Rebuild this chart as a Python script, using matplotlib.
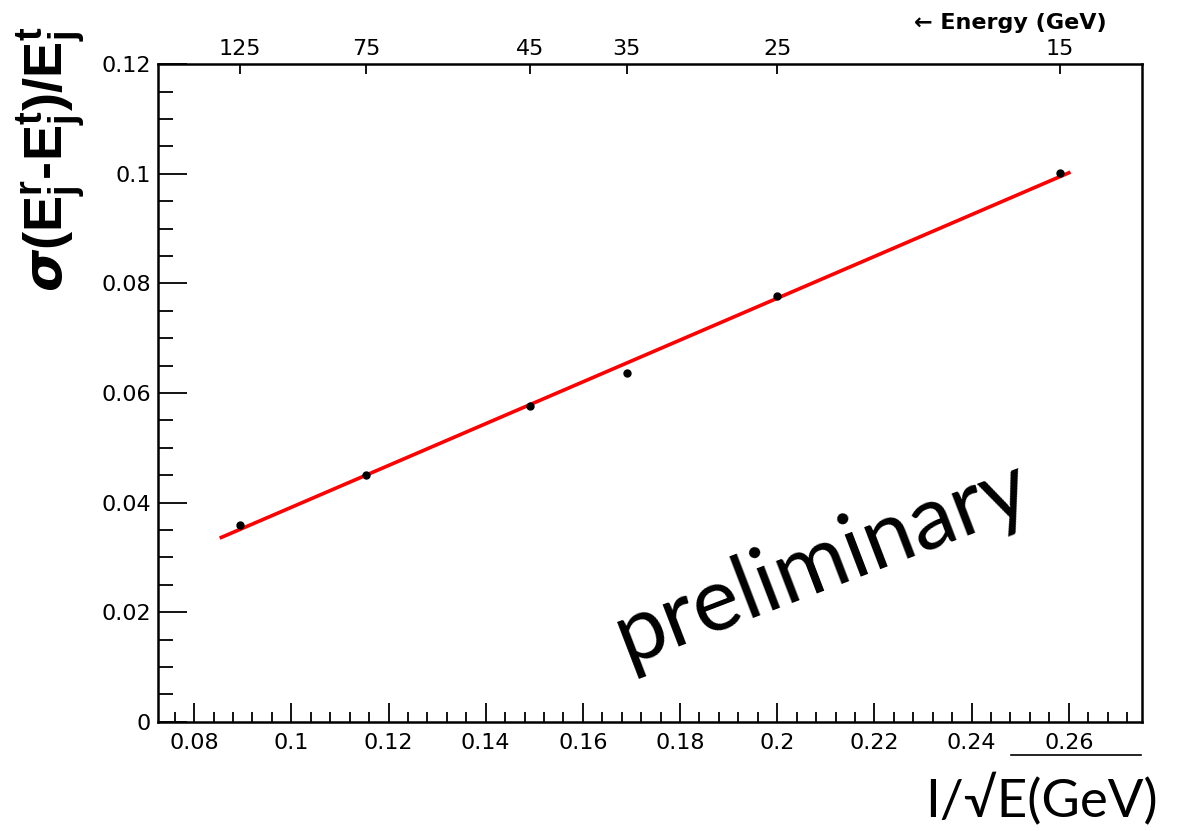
import numpy as np
import matplotlib
matplotlib.use('Agg')
import matplotlib.pyplot as plt
from matplotlib.ticker import MultipleLocator, FixedLocator, FuncFormatter
from matplotlib.lines import Line2D

# beam energies (GeV) and measured jet energy resolution
energies = [125, 75, 45, 35, 25, 15]
resolution = [0.0359, 0.0450, 0.0577, 0.0636, 0.0777, 0.1002]

# linear fit sigma = p0 + p1 / sqrt(E)
fit_p0 = 0.00098
fit_p1 = 0.3816
fit_range = [0.0856, 0.26]

top_labels = ['125', '75', '45', '35', '25', '15']
x_range = [0.0725, 0.275]
y_range = [0, 0.12]

plt.rcParams['font.family'] = ['DejaVu Sans']
plt.rcParams['mathtext.fontset'] = 'custom'
plt.rcParams['mathtext.rm'] = 'Liberation Sans:bold'
plt.rcParams['mathtext.bf'] = 'DejaVu Sans:bold:italic'

inv_sqrt_e = 1.0 / np.sqrt(np.array(energies, dtype=float))

fig = plt.figure(figsize=(11.91, 8.31), dpi=100)
ax = fig.add_axes([0.1324, 0.1315, 0.9586 - 0.1324, 0.9226 - 0.1315])

fx = np.array(fit_range)
ax.plot(fx, fit_p0 + fit_p1 * fx, color='#ff0000', lw=2.6, zorder=2)
ax.plot(inv_sqrt_e, resolution, 'o', color='black', ms=5, zorder=3)

ax.set_xlim(x_range)
ax.set_ylim(y_range)

# ROOT style axes
for s in ax.spines.values():
    s.set_linewidth(1.8)
ax.xaxis.set_major_locator(MultipleLocator(0.02))
ax.xaxis.set_minor_locator(MultipleLocator(0.004))
ax.yaxis.set_major_locator(MultipleLocator(0.02))
ax.yaxis.set_minor_locator(MultipleLocator(0.005))
ax.tick_params(axis='x', which='major', direction='in', length=14, width=1.3,
               labelsize=16, pad=8, top=False)
ax.tick_params(axis='x', which='minor', direction='in', length=7, width=1.3, top=False)
ax.tick_params(axis='y', which='major', direction='in', length=21, width=1.3,
               labelsize=16, pad=5, right=False)
ax.tick_params(axis='y', which='minor', direction='in', length=11, width=1.3, right=False)
ax.xaxis.set_major_formatter(FuncFormatter(lambda v, p: f'{v:g}'))
ax.yaxis.set_major_formatter(FuncFormatter(lambda v, p: f'{v:g}'))

# top axis in energy
top = ax.secondary_xaxis('top')
top.xaxis.set_major_locator(FixedLocator(inv_sqrt_e))
top.set_xticklabels(top_labels)
top.xaxis.set_minor_locator(FixedLocator([]))
top.tick_params(axis='x', direction='in', length=7, width=1.3, labelsize=16, pad=4)
top.spines['top'].set_visible(False)

fig.text(0.929, 0.972, '\u2190 Energy (GeV)', ha='right', va='center',
         fontsize=16, fontweight='bold')

ax.set_ylabel(r'$\mathbf{\sigma}$(E$^{\mathrm{r}}_{\mathrm{j}}$-E$^{\mathrm{t}}_{\mathrm{j}}$)/E$^{\mathrm{t}}_{\mathrm{j}}$',
              fontsize=39, fontweight='bold', family=['Liberation Sans', 'DejaVu Sans'])
ax.yaxis.set_label_coords(-0.07, 0.855)

fig.text(0.972, 0.016, 'I/\u221aE(GeV)', ha='right', va='baseline',
         fontsize=38, family=['Lato', 'DejaVu Sans'])
fig.add_artist(Line2D([0.849, 0.958], [0.092, 0.092], color='black', lw=1.2,
                      transform=fig.transFigure))

ax.text(0.169, 0.0105, 'preliminary', rotation=21, fontsize=64,
        family=['Lato', 'DejaVu Sans'], ha='left', va='baseline',
        rotation_mode='anchor', transform=ax.transData)

fig.savefig('out.png', dpi=100)
